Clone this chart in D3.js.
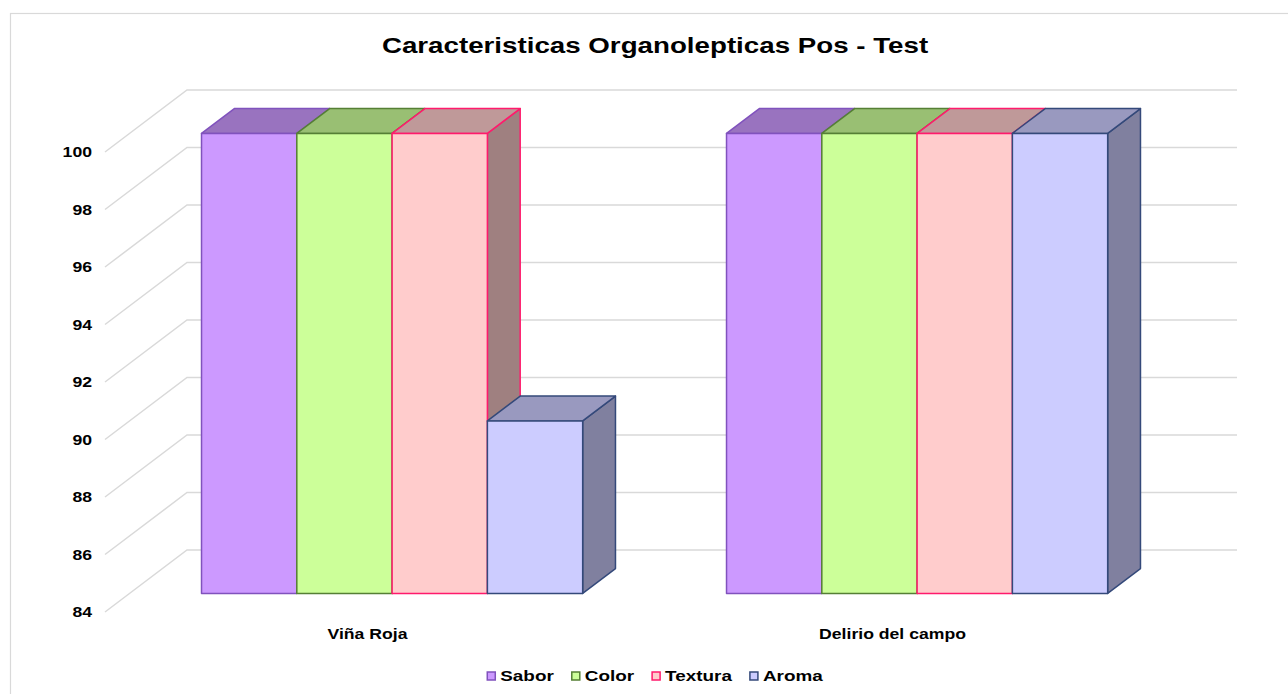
<!DOCTYPE html>
<html>
<head>
<meta charset="utf-8">
<script src="https://cdn.jsdelivr.net/npm/d3@7"></script>
<style>
  body { margin: 0; background: #fff; }
  text { font-family: Arial, "Liberation Sans", sans-serif; fill: #000; }
</style>
</head>
<body>
<div class="chart"></div>
<script>
const categories = ["Viña Roja", "Delirio del campo"]
const seriesNames = ["Sabor", "Color", "Textura", "Aroma"]
const sabor = [100, 100]
const color = [100, 100]
const textura = [100, 100]
const aroma = [90, 100]
const yTicks = [84, 86, 88, 90, 92, 94, 96, 98, 100]

const seriesValues = [sabor, color, textura, aroma]
const fills = ["#cc99ff", "#ccff99", "#ffcccc", "#ccccff"]
const strokes = ["#8052bd", "#557f35", "#ff1a6c", "#34497a"]

const W = 1288, H = 694
const stretch = 1.26 // text in the picture is wider than it is tall

// front plane of the 3d box and the depth vector
const plotLeft = 105, plotRight = 1155, plotTop = 152, plotBottom = 612
const depth = {dx: 82, dy: -62}
const f0 = 0.3, f1 = 0.7 // bars sit in the middle of the depth

const svg = d3.select(".chart")
    .append("svg")
    .attr("width", W)
    .attr("height", H)

svg.append("rect")
    .attr("x", 10.5).attr("y", 13.5)
    .attr("width", W).attr("height", H)
    .attr("fill", "none")
    .attr("stroke", "#d9d9d9")
    .attr("stroke-width", 1.2)

let y = d3.scaleLinear()
    .domain([84, 100])
    .range([plotBottom, plotTop])

let x0 = d3.scaleBand()
    .domain(categories)
    .range([plotLeft, plotRight])
    .paddingInner(0.274)
    .paddingOuter(0.137)

let x1 = d3.scaleBand()
    .domain(seriesNames)
    .range([0, x0.bandwidth()])
    .padding(0)

// gridlines: side wall diagonal + back wall
const grid = svg.append("g")
    .attr("stroke", "#d9d9d9")
    .attr("stroke-width", 1.5)
    .attr("fill", "none")

grid.selectAll("path")
    .data(yTicks)
    .enter()
    .append("path")
    .attr("d", function(d) {
        const yf = y(d)
        return "M" + plotLeft + "," + yf +
            "L" + (plotLeft + depth.dx) + "," + (yf + depth.dy) +
            "L" + (plotRight + depth.dx) + "," + (yf + depth.dy)
    })

// y labels
svg.append("g")
    .selectAll("text")
    .data(yTicks)
    .enter()
    .append("text")
    .attr("transform", function(d) { return "translate(92," + (y(d) + 5) + ") scale(" + stretch + ",1)" })
    .attr("text-anchor", "end")
    .attr("font-size", 14)
    .attr("font-weight", "bold")
    .text(function(d) { return d })

function shade(c, k) {
    const col = d3.rgb(c)
    return d3.rgb(col.r * k, col.g * k, col.b * k).formatHex()
}

// bars
const bars = []
categories.forEach(function(cat, ci) {
    seriesNames.forEach(function(s, si) {
        bars.push({cat: cat, series: s, si: si, value: seriesValues[si][ci]})
    })
})

const ox = depth.dx * f0, oy = depth.dy * f0
const bx = depth.dx * (f1 - f0), by = depth.dy * (f1 - f0)

const barG = svg.append("g")
    .selectAll("g")
    .data(bars)
    .enter()
    .append("g")
    .attr("stroke-width", 1.5)
    .attr("stroke-linejoin", "round")
    .attr("stroke", function(d) { return strokes[d.si] })

barG.each(function(d) {
    const g = d3.select(this)
    const xl = x0(d.cat) + x1(d.series) + ox
    const xr = xl + x1.bandwidth()
    const yt = y(d.value) + oy
    const yb = y(84) + oy
    // right side
    g.append("path")
        .attr("fill", shade(fills[d.si], 0.625))
        .attr("d", "M" + xr + "," + yt + "L" + (xr + bx) + "," + (yt + by) +
            "L" + (xr + bx) + "," + (yb + by) + "L" + xr + "," + yb + "Z")
    // top
    g.append("path")
        .attr("fill", shade(fills[d.si], 0.75))
        .attr("d", "M" + xl + "," + yt + "L" + (xl + bx) + "," + (yt + by) +
            "L" + (xr + bx) + "," + (yt + by) + "L" + xr + "," + yt + "Z")
    // front
    g.append("rect")
        .attr("fill", fills[d.si])
        .attr("x", xl).attr("y", yt)
        .attr("width", x1.bandwidth())
        .attr("height", yb - yt)
})

// category labels
svg.append("g")
    .selectAll("text")
    .data(categories)
    .enter()
    .append("text")
    .attr("transform", function(d) { return "translate(" + (x0(d) + x0.bandwidth() / 2) + ",639) scale(" + stretch + ",1)" })
    .attr("text-anchor", "middle")
    .attr("font-size", 14)
    .attr("font-weight", "bold")
    .text(function(d) { return d })

// title
svg.append("text")
    .attr("transform", "translate(655,53) scale(" + stretch + ",1)")
    .attr("text-anchor", "middle")
    .attr("font-size", 22)
    .attr("font-weight", "bold")
    .text("Caracteristicas Organolepticas Pos - Test")

// legend
const legend = svg.append("g")
const items = legend.selectAll("g")
    .data(seriesNames)
    .enter()
    .append("g")

items.append("rect")
    .attr("x", 0).attr("y", -9)
    .attr("width", 8).attr("height", 8)
    .attr("fill", function(d, i) { return fills[i] })
    .attr("stroke", function(d, i) { return strokes[i] })
    .attr("stroke-width", 1.5)

items.append("text")
    .attr("transform", "translate(13,0) scale(" + stretch + ",1)")
    .attr("font-size", 15)
    .attr("font-weight", "bold")
    .text(function(d) { return d })

let pos = 0
items.each(function() {
    const t = d3.select(this).select("text").node()
    const w = 13 + t.getComputedTextLength() * stretch
    d3.select(this).attr("transform", "translate(" + pos + ",0)")
    pos += w + 18
})
pos -= 18
legend.attr("transform", "translate(" + (655 - pos / 2) + ",681)")
</script>
</body>
</html>
